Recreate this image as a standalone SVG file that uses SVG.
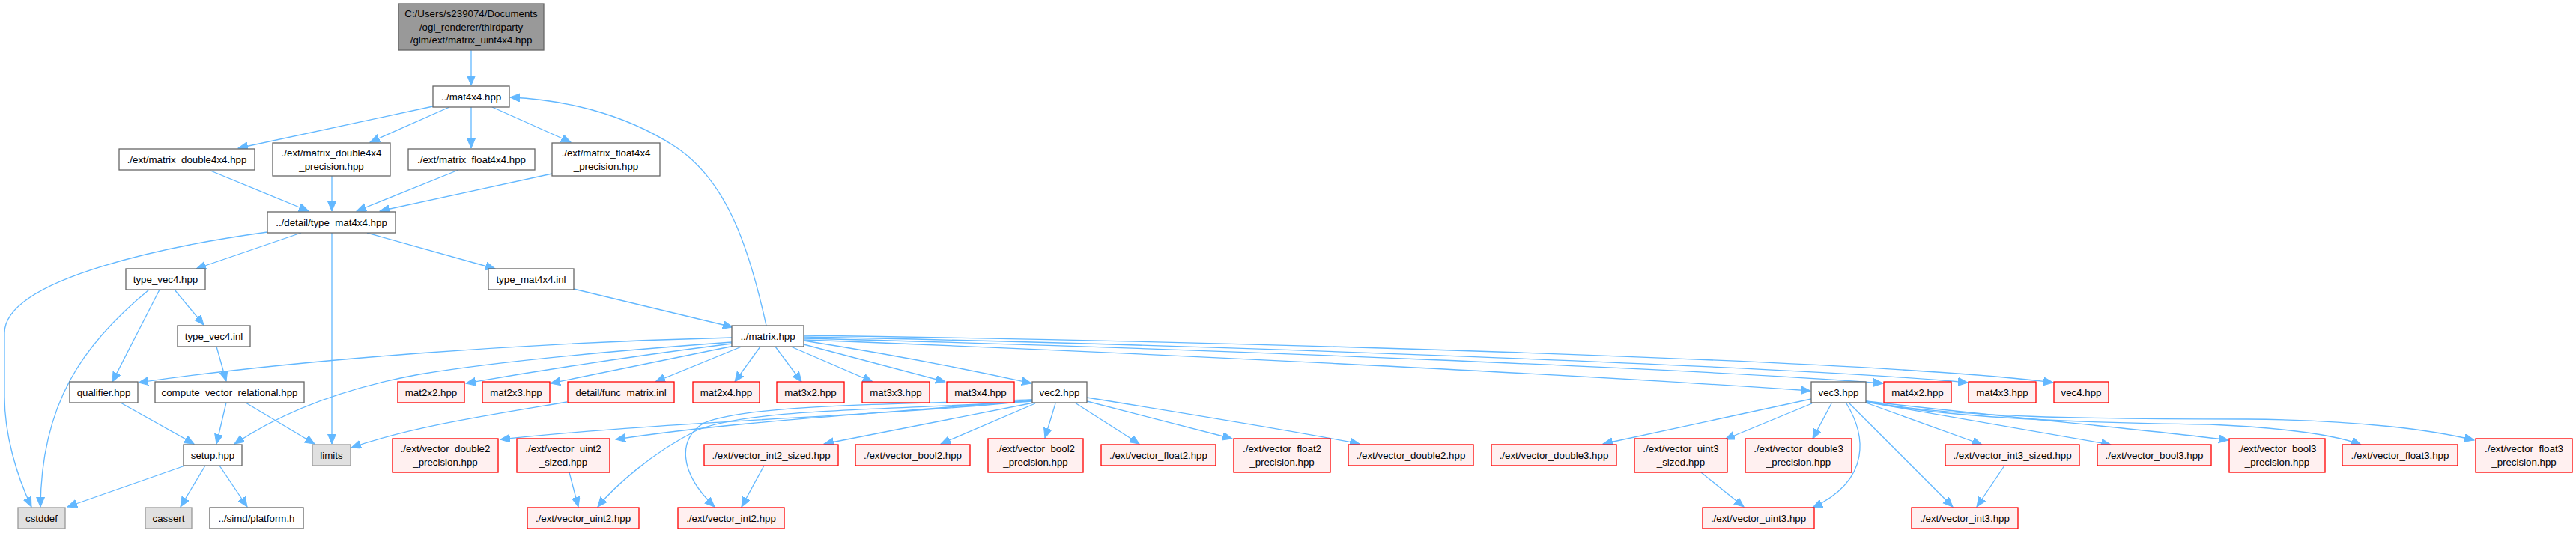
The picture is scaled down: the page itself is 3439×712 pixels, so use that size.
<svg xmlns="http://www.w3.org/2000/svg" width="3439" height="712" viewBox="0 0 3439 712">
<style>
text{font-family:"Liberation Sans",Arial,sans-serif;font-size:13.3px;text-anchor:middle;fill:#000}
.n rect{fill:#fff;stroke:#666;stroke-width:1.3}
.r rect{fill:#999;stroke:#666;stroke-width:1.3}
.s rect{fill:#e0e0e0;stroke:#999;stroke-width:1.3}
.x rect{fill:#fff0f0;stroke:#f00;stroke-width:1.3}
#edges path{fill:none;stroke:#63b8ff;stroke-width:1.3;marker-end:url(#ah)}
</style>
<defs>
<marker id="ah" markerUnits="userSpaceOnUse" markerWidth="14" markerHeight="12" refX="13" refY="5.5" orient="auto"><path d="M0,0 L13,5.5 L0,11 z" fill="#63b8ff" stroke="#63b8ff" stroke-width="1"/></marker>
</defs>
<rect width="3439" height="712" fill="#fff"/>
<g id="edges">
<path d="M629,67 L629,114"/>
<path d="M578,142 L318,198"/>
<path d="M600,143 L494,190"/>
<path d="M629,143 L629,198"/>
<path d="M657,143 L762,190"/>
<path d="M281,228 L412,282"/>
<path d="M443,235 L443,282"/>
<path d="M612,227 L476,282"/>
<path d="M737,232 L507,282"/>
<path d="M357,310 C240,326 6,370 6,445 L6,530 C6,580 22,635 42,677"/>
<path d="M402,311 L262,359"/>
<path d="M443,311 L443,593"/>
<path d="M490,311 L661,359"/>
<path d="M766,386 L978,437"/>
<path d="M1023,435 C1000,330 970,240 900,195 C830,150 750,133 681,130"/>
<path d="M199,387 C110,460 55,540 54,677"/>
<path d="M213,387 L150,510"/>
<path d="M233,387 L272,434"/>
<path d="M289,463 L302,509"/>
<path d="M161,538 L259,593"/>
<path d="M302,538 L289,593"/>
<path d="M328,538 L420,593"/>
<path d="M247,622 L90,677"/>
<path d="M274,622 L241,677"/>
<path d="M293,622 L330,677"/>
<path d="M977,451 C700,458 400,480 185,511"/>
<path d="M977,457 C800,470 650,485 560,500 C450,520 370,555 313,593"/>
<path d="M977,459 C850,475 720,495 622,512"/>
<path d="M980,462 L735,512"/>
<path d="M990,463 L875,510"/>
<path d="M1015,463 L981,510"/>
<path d="M1035,463 L1070,510"/>
<path d="M1056,463 L1165,510"/>
<path d="M1073,460 L1262,510"/>
<path d="M1073,455 C1200,475 1300,495 1377,512"/>
<path d="M1073,454 C1500,470 2100,500 2417,522"/>
<path d="M1073,452 C1600,465 2300,495 2514,512"/>
<path d="M1073,450 C1600,460 2400,490 2627,511"/>
<path d="M1073,448 C1600,455 2500,480 2741,511"/>
<path d="M757,537 C650,555 550,570 469,598"/>
<path d="M1378,535 C1200,555 900,562 668,587"/>
<path d="M1378,534 C1200,552 1000,560 822,587"/>
<path d="M1378,536 C1200,548 1000,545 930,575 C870,605 820,650 798,677"/>
<path d="M1378,534 C1200,540 1000,540 940,565 C905,585 905,630 954,677"/>
<path d="M1380,538 L1100,593"/>
<path d="M1382,539 L1256,593"/>
<path d="M1409,539 L1395,585"/>
<path d="M1435,538 L1521,593"/>
<path d="M1451,536 L1645,586"/>
<path d="M1451,531 C1600,555 1750,580 1815,593"/>
<path d="M2418,533 L2140,593"/>
<path d="M2419,539 L2303,587"/>
<path d="M2445,539 L2420,586"/>
<path d="M2465,539 C2490,580 2500,640 2420,678"/>
<path d="M2469,539 L2607,677"/>
<path d="M2491,538 L2646,594"/>
<path d="M2491,537 L2818,594"/>
<path d="M2491,536 C2700,560 2880,575 2975,588"/>
<path d="M2491,536 C2600,560 2800,565 2950,567 C3060,572 3120,582 3152,594"/>
<path d="M2491,536 C2600,558 2800,560 3000,560 C3150,561 3250,575 3303,588"/>
<path d="M760,631 L772,677"/>
<path d="M1020,622 L990,677"/>
<path d="M2271,631 L2328,677"/>
<path d="M2676,622 L2639,677"/>
</g>
<g id="n0" class="r"><rect x="532" y="5" width="194" height="62"/><text x="629" y="23">C:/Users/s239074/Documents</text><text x="629" y="41">/ogl_renderer/thirdparty</text><text x="629" y="58">/glm/ext/matrix_uint4x4.hpp</text></g>
<g id="n1" class="n"><rect x="578" y="115" width="102" height="28"/><text x="629" y="134">../mat4x4.hpp</text></g>
<g id="n2" class="n"><rect x="159" y="199" width="181" height="28"/><text x="249.5" y="218">./ext/matrix_double4x4.hpp</text></g>
<g id="n3" class="n"><rect x="364" y="191" width="157" height="44"/><text x="442.5" y="209">./ext/matrix_double4x4</text><text x="442.5" y="227">_precision.hpp</text></g>
<g id="n4" class="n"><rect x="545" y="199" width="169" height="28"/><text x="629.5" y="218">./ext/matrix_float4x4.hpp</text></g>
<g id="n5" class="n"><rect x="737" y="191" width="144" height="44"/><text x="809" y="209">./ext/matrix_float4x4</text><text x="809" y="227">_precision.hpp</text></g>
<g id="n6" class="n"><rect x="357" y="283" width="171" height="28"/><text x="442.5" y="302">../detail/type_mat4x4.hpp</text></g>
<g id="n7" class="n"><rect x="168" y="359" width="106" height="28"/><text x="221" y="378">type_vec4.hpp</text></g>
<g id="n8" class="n"><rect x="652" y="359" width="114" height="28"/><text x="709" y="378">type_mat4x4.inl</text></g>
<g id="n9" class="n"><rect x="237" y="435" width="97" height="28"/><text x="285.5" y="454">type_vec4.inl</text></g>
<g id="n10" class="n"><rect x="977" y="435" width="96" height="28"/><text x="1025" y="454">../matrix.hpp</text></g>
<g id="n11" class="n"><rect x="93" y="510" width="91" height="28"/><text x="138.5" y="529">qualifier.hpp</text></g>
<g id="n12" class="n"><rect x="207" y="510" width="199" height="28"/><text x="306.5" y="529">compute_vector_relational.hpp</text></g>
<g id="n13" class="x"><rect x="531" y="510" width="89" height="28"/><text x="575.5" y="529">mat2x2.hpp</text></g>
<g id="n14" class="x"><rect x="644" y="510" width="90" height="28"/><text x="689" y="529">mat2x3.hpp</text></g>
<g id="n15" class="x"><rect x="758" y="510" width="142" height="28"/><text x="829" y="529">detail/func_matrix.inl</text></g>
<g id="n16" class="x"><rect x="925" y="510" width="89" height="28"/><text x="969.5" y="529">mat2x4.hpp</text></g>
<g id="n17" class="x"><rect x="1037" y="510" width="90" height="28"/><text x="1082" y="529">mat3x2.hpp</text></g>
<g id="n18" class="x"><rect x="1151" y="510" width="90" height="28"/><text x="1196" y="529">mat3x3.hpp</text></g>
<g id="n19" class="x"><rect x="1264" y="510" width="90" height="28"/><text x="1309" y="529">mat3x4.hpp</text></g>
<g id="n20" class="n"><rect x="1378" y="510" width="73" height="28"/><text x="1414.5" y="529">vec2.hpp</text></g>
<g id="n21" class="n"><rect x="2418" y="510" width="73" height="28"/><text x="2454.5" y="529">vec3.hpp</text></g>
<g id="n22" class="x"><rect x="2515" y="510" width="90" height="28"/><text x="2560" y="529">mat4x2.hpp</text></g>
<g id="n23" class="x"><rect x="2628" y="510" width="90" height="28"/><text x="2673" y="529">mat4x3.hpp</text></g>
<g id="n24" class="x"><rect x="2742" y="510" width="73" height="28"/><text x="2778.5" y="529">vec4.hpp</text></g>
<g id="n25" class="n"><rect x="245" y="594" width="78" height="28"/><text x="284" y="613">setup.hpp</text></g>
<g id="n26" class="s"><rect x="417" y="594" width="51" height="28"/><text x="442.5" y="613">limits</text></g>
<g id="n27" class="x"><rect x="524" y="586" width="141" height="45"/><text x="594.5" y="604">./ext/vector_double2</text><text x="594.5" y="622">_precision.hpp</text></g>
<g id="n28" class="x"><rect x="690" y="586" width="124" height="45"/><text x="752" y="604">./ext/vector_uint2</text><text x="752" y="622">_sized.hpp</text></g>
<g id="n29" class="x"><rect x="940" y="594" width="179" height="28"/><text x="1029.5" y="613">./ext/vector_int2_sized.hpp</text></g>
<g id="n30" class="x"><rect x="1142" y="594" width="153" height="28"/><text x="1218.5" y="613">./ext/vector_bool2.hpp</text></g>
<g id="n31" class="x"><rect x="1319" y="586" width="127" height="45"/><text x="1382.5" y="604">./ext/vector_bool2</text><text x="1382.5" y="622">_precision.hpp</text></g>
<g id="n32" class="x"><rect x="1470" y="594" width="153" height="28"/><text x="1546.5" y="613">./ext/vector_float2.hpp</text></g>
<g id="n33" class="x"><rect x="1647" y="586" width="129" height="45"/><text x="1711.5" y="604">./ext/vector_float2</text><text x="1711.5" y="622">_precision.hpp</text></g>
<g id="n34" class="x"><rect x="1800" y="594" width="167" height="28"/><text x="1883.5" y="613">./ext/vector_double2.hpp</text></g>
<g id="n35" class="x"><rect x="1991" y="594" width="167" height="28"/><text x="2074.5" y="613">./ext/vector_double3.hpp</text></g>
<g id="n36" class="x"><rect x="2182" y="586" width="124" height="45"/><text x="2244" y="604">./ext/vector_uint3</text><text x="2244" y="622">_sized.hpp</text></g>
<g id="n37" class="x"><rect x="2330" y="586" width="142" height="45"/><text x="2401" y="604">./ext/vector_double3</text><text x="2401" y="622">_precision.hpp</text></g>
<g id="n38" class="x"><rect x="2597" y="594" width="179" height="28"/><text x="2686.5" y="613">./ext/vector_int3_sized.hpp</text></g>
<g id="n39" class="x"><rect x="2800" y="594" width="152" height="28"/><text x="2876" y="613">./ext/vector_bool3.hpp</text></g>
<g id="n40" class="x"><rect x="2976" y="586" width="128" height="45"/><text x="3040" y="604">./ext/vector_bool3</text><text x="3040" y="622">_precision.hpp</text></g>
<g id="n41" class="x"><rect x="3127" y="594" width="154" height="28"/><text x="3204" y="613">./ext/vector_float3.hpp</text></g>
<g id="n42" class="x"><rect x="3305" y="586" width="129" height="45"/><text x="3369.5" y="604">./ext/vector_float3</text><text x="3369.5" y="622">_precision.hpp</text></g>
<g id="n43" class="s"><rect x="24" y="678" width="63" height="28"/><text x="55.5" y="697">cstddef</text></g>
<g id="n44" class="s"><rect x="194" y="678" width="62" height="28"/><text x="225" y="697">cassert</text></g>
<g id="n45" class="n"><rect x="280" y="678" width="125" height="28"/><text x="342.5" y="697">../simd/platform.h</text></g>
<g id="n46" class="x"><rect x="704" y="678" width="149" height="28"/><text x="778.5" y="697">./ext/vector_uint2.hpp</text></g>
<g id="n47" class="x"><rect x="905" y="678" width="142" height="28"/><text x="976" y="697">./ext/vector_int2.hpp</text></g>
<g id="n48" class="x"><rect x="2273" y="678" width="149" height="28"/><text x="2347.5" y="697">./ext/vector_uint3.hpp</text></g>
<g id="n49" class="x"><rect x="2552" y="678" width="142" height="28"/><text x="2623" y="697">./ext/vector_int3.hpp</text></g>
</svg>
